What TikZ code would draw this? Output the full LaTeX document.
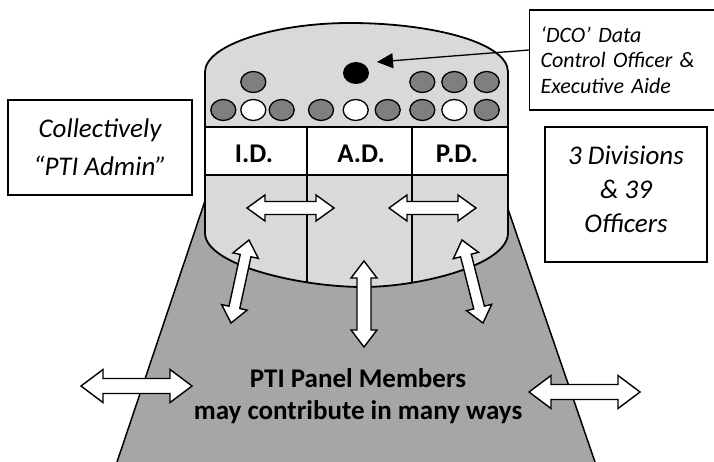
\documentclass[tikz,border=0pt]{standalone}
\usepackage{fontspec}
\setmainfont{Carlito}
\usetikzlibrary{calc,shapes.geometric,arrows.meta}
\definecolor{cylgray}{HTML}{D9D9D9}
\definecolor{panelgray}{HTML}{A6A6A6}
\definecolor{seatgray}{HTML}{7F7F7F}
\tikzset{
  outline/.style={draw=black, line width=1.8pt},
  divider/.style={draw=black, line width=1.1pt},
  blockarr/.style={draw=black, fill=white, line width=1.4pt, line join=miter},
  seat/.style={ellipse, draw=black, line width=1.3pt, fill=seatgray, minimum width=25pt, minimum height=21pt, inner sep=0pt},
  vacant/.style={seat, fill=white},
  infobox/.style={draw=black, line width=1.3pt, fill=white, align=center, font=\fontsize{27}{34}\selectfont\itshape, inner sep=0pt},
  celltext/.style={font=\fontsize{27}{30}\selectfont\bfseries, inner sep=0pt}
}
% double block arrow between two named tips: #1,#2 tips, #3 head length, #4 head half width, #5 shaft half width
\newcommand\dblblock[5]{%
  \coordinate (P1) at ($(#1)!#3!(#2)$);
  \coordinate (P2) at ($(#2)!#3!(#1)$);
  \draw[blockarr] (#1) -- ($(P1)!#4!90:(#2)$) -- ($(P1)!#5!90:(#2)$) -- ($(P2)!#5!90:(#2)$) -- ($(P2)!#4!90:(#2)$) -- (#2)
     -- ($(P2)!#4!-90:(#2)$) -- ($(P2)!#5!-90:(#2)$) -- ($(P1)!#5!-90:(#2)$) -- ($(P1)!#4!-90:(#2)$) -- cycle;
}
\begin{document}
\begin{tikzpicture}[x=1pt,y=-1pt]
\useasboundingbox (0,0) rectangle (714,462);
% panel trapezoid
\coordinate (ptl) at (212,180);
\coordinate (ptr) at (498,180);
\coordinate (pbl) at (117,462);
\coordinate (pbr) at (595,462);
\fill[panelgray] (ptl) -- (ptr) -- (pbr) -- (pbl) -- cycle;
\draw[line width=1.5pt] (ptl) -- (pbl);
\draw[line width=1.5pt] (ptr) -- (pbr);
% cylinder
\draw[outline, fill=cylgray] (205,233) -- (205,72) .. controls (205,45) and (275,23) .. (350,23)
   .. controls (430,23) and (508,42) .. (508,72) -- (508,233)
   .. controls (508,265) and (420,287) .. (363,287)
   .. controls (300,287) and (205,265) .. (205,233) -- cycle;
% division row
\fill[white] (205,127) rectangle (508,175);
\draw[outline] (205,127) -- (508,127);
\draw[outline] (205,175) -- (508,175);
\draw[outline] (205,120) -- (205,182);
\draw[outline] (508,120) -- (508,182);
\draw[divider] (307,127) -- (307,282.6);
\draw[divider] (412,127) -- (412,283);
\node[celltext] (id) at (254,154) {I.D.};
\node[celltext] (ad) at (361,154) {A.D.};
\node[celltext] (pd) at (457,154) {P.D.};
% seats
\node[seat] (s1) at (223.3,110) {};
\node[vacant] (s2) at (253.3,110) {};
\node[seat] (s3) at (281.7,110) {};
\node[seat] (s4) at (321,110) {};
\node[vacant] (s5) at (355.7,110) {};
\node[seat] (s6) at (387.7,110) {};
\node[seat] (s7) at (422.3,110) {};
\node[vacant] (s8) at (454.3,110) {};
\node[seat] (s9) at (486.7,110) {};
\node[seat] (s10) at (253.3,82) {};
\node[seat] (s11) at (422.3,82) {};
\node[seat] (s12) at (454.3,82) {};
\node[seat] (s13) at (486.7,82) {};
\node[ellipse, fill=black, minimum width=26pt, minimum height=22pt, inner sep=0pt] (dco dot) at (356,73) {};
% arrows inside
\coordinate (h1a) at (247,208); \coordinate (h1b) at (334,208);
\dblblock{h1a}{h1b}{18pt}{13pt}{6.5pt}
\coordinate (h2a) at (389,208); \coordinate (h2b) at (476,208);
\dblblock{h2a}{h2b}{18pt}{13pt}{6.5pt}
\coordinate (d1a) at (249,240); \coordinate (d1b) at (231,323);
\dblblock{d1a}{d1b}{16pt}{13pt}{5.5pt}
\coordinate (d2a) at (364,261); \coordinate (d2b) at (364,347);
\dblblock{d2a}{d2b}{17pt}{13pt}{7pt}
\coordinate (d3a) at (462,240); \coordinate (d3b) at (483,323);
\dblblock{d3a}{d3b}{16pt}{13pt}{5.5pt}
% outer arrows
\coordinate (o1a) at (81,386); \coordinate (o1b) at (192,386);
\dblblock{o1a}{o1b}{22pt}{16.5pt}{7.5pt}
\coordinate (o2a) at (529,392); \coordinate (o2b) at (640,392);
\dblblock{o2a}{o2b}{22pt}{16.5pt}{7.5pt}
% panel text
\node[align=center, font=\fontsize{27}{32}\selectfont\bfseries, inner sep=0pt] (panel) at (358,396)
  {PTI Panel Members\\may contribute in many ways};
% boxes
\node[infobox, minimum width=184pt, minimum height=95pt, font=\fontsize{27}{38}\selectfont\itshape] (coll) at (100,147.5)
  {Collectively\\“PTI Admin”};
\node[infobox, minimum width=162pt, minimum height=135pt] (divs) at (626,194.5) {};
\node[align=center, font=\fontsize{27}{34}\selectfont\itshape, inner sep=0pt] (divs text) at (626,189)
  {3 Divisions\\\& 39\\Officers};
\node[draw=black, line width=1.3pt, fill=white, anchor=west, inner xsep=11pt, inner ysep=0pt,
      text width=175pt, align=left, minimum height=100pt, font=\fontsize{22}{25.5}\selectfont\itshape] (dco) at (529,60)
  {‘DCO’ Data\\Control Officer \&\\Executive Aide};
\coordinate (dco tip) at (377,62);
\draw[line width=1.3pt, -{Triangle[length=16pt, width=15pt]}] ([yshift=10pt]dco.west) -- (dco tip);
\end{tikzpicture}
\end{document}
